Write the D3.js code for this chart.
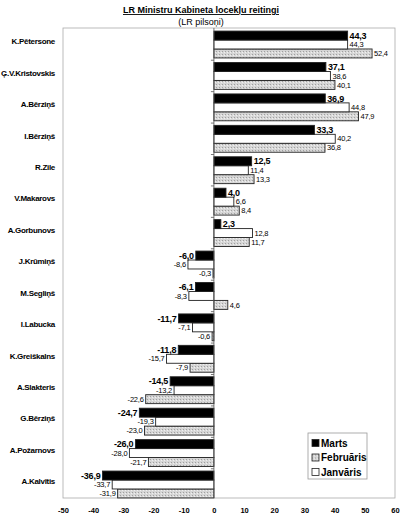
<!DOCTYPE html>
<html>
<head>
<meta charset="utf-8">
<script src="https://cdn.jsdelivr.net/npm/d3@7"></script>
<style>
body { margin: 0; background: #fff; }
svg { display: block; font-family: "Liberation Sans", Arial, sans-serif; }
</style>
</head>
<body>
<svg id="chart" width="400" height="519"></svg>
<script>
var names = ['K.Pētersone', 'Ģ.V.Kristovskis', 'A.Bērziņš', 'I.Bērziņš', 'R.Zile', 'V.Makarovs',
    'A.Gorbunovs', 'J.Krūmiņš', 'M.Segliņš', 'I.Labucka', 'K.Greiškalns', 'A.Slakteris',
    'G.Bērziņš', 'A.Požarnovs', 'A.Kalvītis'];
var marts = [44.3, 37.1, 36.9, 33.3, 12.5, 4.0, 2.3, -6.0, -6.1, -11.7, -11.8, -14.5, -24.7, -26.0, -36.9];
var janvaris = [44.3, 38.6, 44.8, 40.2, 11.4, 6.6, 12.8, -8.6, -8.3, -7.1, -15.7, -13.2, -19.3, -28.0, -33.7];
var februaris = [52.4, 40.1, 47.9, 36.8, 13.3, 8.4, 11.7, -0.3, 4.6, -0.6, -7.9, -22.6, -23.0, -21.7, -31.9];
var seriesNames = ['Marts', 'Februāris', 'Janvāris'];
var xTicks = [-50, -40, -30, -20, -10, 0, 10, 20, 30, 40, 50, 60];

var svg = d3.select('#chart');
var plotLeft = 63, plotRight = 395, plotTop = 28, plotBottom = 498;

var defs = svg.append('defs');
var pat = defs.append('pattern')
    .attr('id', 'dots')
    .attr('width', 3).attr('height', 3)
    .attr('patternUnits', 'userSpaceOnUse');
pat.append('rect').attr('width', 3).attr('height', 3).attr('fill', '#d6d6d6');
pat.append('rect').attr('x', 0).attr('y', 0).attr('width', 1).attr('height', 1).attr('fill', '#a0a0a0');
pat.append('rect').attr('x', 2).attr('y', 1).attr('width', 1).attr('height', 1).attr('fill', '#f0f0f0');

var x = d3.scaleLinear().domain([-50, 60]).range([plotLeft, plotRight]);
var y = d3.scaleBand().domain(names).range([plotTop + 1.5, plotBottom + 1.5]).paddingInner(0.145).paddingOuter(0.05);
var sub = d3.scaleBand().domain(['m', 'j', 'f']).range([0, y.bandwidth()]);

// titles
svg.append('text')
    .attr('x', 201).attr('y', 13)
    .attr('text-anchor', 'middle')
    .style('font-size', '9px').style('font-weight', 'bold')
    .style('text-decoration', 'underline')
    .text('LR Ministru Kabineta locekļu reitingi');
svg.append('text')
    .attr('x', 201).attr('y', 25)
    .attr('text-anchor', 'middle')
    .style('font-size', '9px')
    .text('(LR pilsoņi)');

// plot frame
svg.append('rect')
    .attr('x', plotLeft).attr('y', plotTop)
    .attr('width', plotRight - plotLeft).attr('height', plotBottom - plotTop)
    .attr('fill', 'none').attr('stroke', '#aaa').attr('stroke-width', 0.8);

var rows = names.map(function(n, i) {
    return { name: n, m: marts[i], j: janvaris[i], f: februaris[i] };
});

var fills = { m: '#000', j: '#fff', f: 'url(#dots)' };

var g = svg.append('g');
['f', 'j', 'm'].forEach(function(k) {
    g.selectAll('rect.' + k)
        .data(rows)
        .join('rect')
        .attr('class', k)
        .attr('x', function(d) { return x(Math.min(0, d[k])); })
        .attr('y', function(d) { return y(d.name) + sub(k); })
        .attr('width', function(d) { return Math.abs(x(d[k]) - x(0)); })
        .attr('height', sub.bandwidth())
        .attr('fill', fills[k])
        .attr('stroke', '#222')
        .attr('stroke-width', 0.9);

    g.selectAll('text.v' + k)
        .data(rows)
        .join('text')
        .attr('class', 'v' + k)
        .attr('x', function(d) { return d[k] < 0 ? x(d[k]) - 2 : x(d[k]) + 2; })
        .attr('y', function(d) { return y(d.name) + sub(k) + sub.bandwidth() / 2; })
        .attr('dy', '0.35em')
        .attr('text-anchor', function(d) { return d[k] < 0 ? 'end' : 'start'; })
        .style('font-size', k === 'm' ? '9px' : '7.5px')
        .style('letter-spacing', '-0.2px')
        .style('font-weight', k === 'm' ? 'bold' : 'normal')
        .text(function(d) { return d[k].toFixed(1).replace('.', ','); });
});

// zero line with small ticks between groups
svg.append('line')
    .attr('x1', x(0)).attr('x2', x(0))
    .attr('y1', plotTop).attr('y2', plotBottom)
    .attr('stroke', '#555').attr('stroke-width', 0.8);
svg.append('g').selectAll('line')
    .data(names.slice(1))
    .join('line')
    .attr('x1', x(0) - 3).attr('x2', x(0))
    .attr('y1', function(d) { return y(d) - y.step() * y.paddingInner() / 2; })
    .attr('y2', function(d) { return y(d) - y.step() * y.paddingInner() / 2; })
    .attr('stroke', '#555').attr('stroke-width', 0.8);

// category labels
svg.append('g').selectAll('text')
    .data(names)
    .join('text')
    .attr('x', 55)
    .attr('y', function(d) { return y(d) + y.bandwidth() / 2 - 3; })
    .attr('dy', '0.35em')
    .attr('text-anchor', 'end')
    .style('font-size', '8px').style('font-weight', 'bold')
    .style('letter-spacing', '-0.3px')
    .text(function(d) { return d; });

// x axis
var xAxis = d3.axisBottom(x).tickValues(xTicks).tickSize(0).tickPadding(10)
    .tickFormat(function(d) { return String(d); });
var ax = svg.append('g')
    .attr('transform', 'translate(0,' + plotBottom + ')')
    .call(xAxis);
ax.select('.domain').remove();
ax.selectAll('text')
    .style('font-size', '7.5px').style('font-weight', 'bold')
    .style('font-family', '"Liberation Sans", Arial, sans-serif');

// legend
var lg = svg.append('g').attr('transform', 'translate(308,433)');
lg.append('rect')
    .attr('width', 59).attr('height', 46)
    .attr('fill', '#fff').attr('stroke', '#999').attr('stroke-width', 0.8);
var legendFill = ['#000', 'url(#dots)', '#fff'];
lg.selectAll('g.item')
    .data(seriesNames)
    .join('g')
    .attr('class', 'item')
    .attr('transform', function(d, i) { return 'translate(4,' + (10 + i * 14.5) + ')'; })
    .each(function(d, i) {
        var it = d3.select(this);
        it.append('rect')
            .attr('x', 0).attr('y', -3.5).attr('width', 7).attr('height', 7)
            .attr('fill', legendFill[i]).attr('stroke', '#222').attr('stroke-width', 0.8);
        it.append('text')
            .attr('x', 9).attr('dy', '0.35em')
            .style('font-size', '10px').style('font-weight', 'bold')
            .text(d);
    });
</script>
</body>
</html>
